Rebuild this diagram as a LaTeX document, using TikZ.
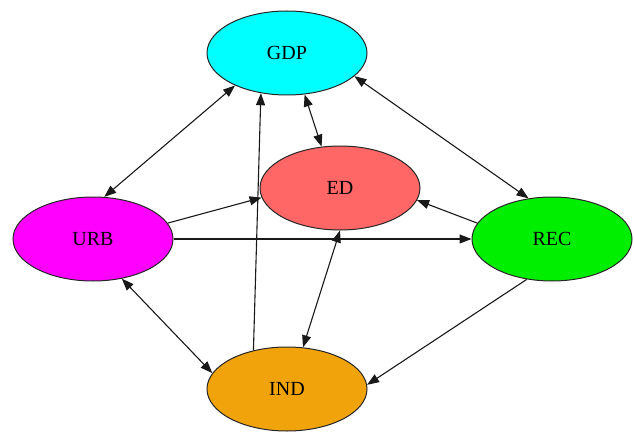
\documentclass[tikz,border=0pt]{standalone}
\usepackage{fontspec}
\setmainfont{Liberation Serif}
\usepackage{tikz}
\usetikzlibrary{shapes.geometric,arrows.meta}
\definecolor{GdpColor}{RGB}{0,255,255}
\definecolor{EdColor}{RGB}{255,102,102}
\definecolor{UrbColor}{RGB}{255,0,255}
\definecolor{RecColor}{RGB}{0,238,0}
\definecolor{IndColor}{RGB}{240,163,10}

\begin{document}
\begin{tikzpicture}[x=1pt,y=-1pt,
  vrb/.style={ellipse,draw=black!85,fill=#1,line width=1pt,minimum width=160pt,minimum height=84pt,inner sep=0pt,font=\fontsize{20}{23}\selectfont},
  lnk/.style={draw=black!90,line width=1.1pt,>={Triangle[length=12pt,width=9pt]}}]
\useasboundingbox (0,0) rectangle (634,433);
\node[vrb=GdpColor](gdp) at(287,53) {GDP};
\node[vrb=EdColor](ed) at(340,188) {ED};
\node[vrb=UrbColor](urb) at(93,239) {URB};
\node[vrb=RecColor](rec) at(552,239) {REC};
\node[vrb=IndColor](ind) at(287,389) {IND};
% two-way links
\foreach \a/\b in %
{gdp.212/urb.75,gdp.293/ed.114,gdp.341/rec.120,urb.306/ind.168,ed.270/ind.69} {
   \draw[lnk,<->] (\a) -- (\b);
}
% one-way links
\foreach \a/\b in %
{urb.12/ed.187,urb.0/rec.180,rec.168/ed.351,ind.131/gdp.237,rec.238/ind.3} {
   \draw[lnk,->] (\a) -- (\b);
}
\end{tikzpicture}
\end{document}
